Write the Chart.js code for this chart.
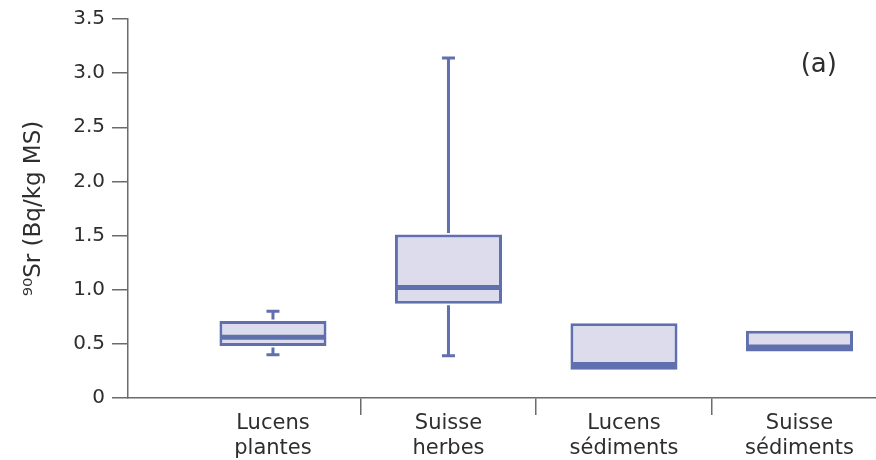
<!DOCTYPE html>
<html>
<head>
<meta charset="utf-8">
<script src="https://cdn.jsdelivr.net/npm/chart.js@4"></script>
<style>
  html, body { margin: 0; padding: 0; background: #fff; }
  #wrap { width: 876px; height: 460px; }
</style>
</head>
<body>
<div id="wrap"><canvas id="boxChart"></canvas></div>
<script>
// categories and box statistics
const categories = [
    ['Lucens', 'plantes'],
    ['Suisse', 'herbes'],
    ['Lucens', 'sédiments'],
    ['Suisse', 'sédiments']
];
const positions = [1, 2, 3, 4];
const whiskerLow = [0.40, 0.39, 0.26, 0.43];
const quartile1 = [0.48, 0.87, 0.26, 0.43];
const medians = [0.56, 1.02, 0.31, 0.47];
const quartile3 = [0.71, 1.51, 0.69, 0.62];
const whiskerHigh = [0.80, 3.14, 0.69, 0.62];
const yTicks = [0, 0.5, 1.0, 1.5, 2.0, 2.5, 3.0, 3.5];

const panelLabel = '(a)';
const panelLabelAt = { x: 4.11, y: 3.07 };

const boxColor = '#6070ae';
const boxFill = '#dcdcec';
const axisColor = '#6b6b6b';
const textColor = '#2e2e2e';
const fontFamily = '"DejaVu Sans", Verdana, sans-serif';

// whiskers, caps, medians and the panel letter, all placed through the scales
const boxExtras = {
    id: 'boxExtras',
    afterDatasetsDraw(chart) {
        const ctx = chart.ctx;
        const xs = chart.scales.x;
        const ys = chart.scales.y;
        const meta = chart.getDatasetMeta(0);
        ctx.save();
        ctx.strokeStyle = boxColor;
        ctx.lineCap = 'butt';
        for (let i = 0; i < positions.length; i++) {
            var cx = xs.getPixelForValue(positions[i]);
            var half = meta.data[i].width / 2;
            var capHalf = 6.5;
            // lower whisker
            if (whiskerLow[i] < quartile1[i]) {
                var y1 = ys.getPixelForValue(quartile1[i]);
                var y0 = ys.getPixelForValue(whiskerLow[i]);
                ctx.lineWidth = 3;
                ctx.beginPath();
                ctx.moveTo(cx, y1 + 1.5);
                ctx.lineTo(cx, y0);
                ctx.moveTo(cx - capHalf, y0);
                ctx.lineTo(cx + capHalf, y0);
                ctx.stroke();
            }
            // upper whisker
            if (whiskerHigh[i] > quartile3[i]) {
                var y3 = ys.getPixelForValue(quartile3[i]);
                var y4 = ys.getPixelForValue(whiskerHigh[i]);
                ctx.lineWidth = 3;
                ctx.beginPath();
                ctx.moveTo(cx, y3 - 1.5);
                ctx.lineTo(cx, y4);
                ctx.moveTo(cx - capHalf, y4);
                ctx.lineTo(cx + capHalf, y4);
                ctx.stroke();
            }
            // median
            var ym = ys.getPixelForValue(medians[i]);
            ctx.lineWidth = 5;
            ctx.beginPath();
            ctx.moveTo(cx - half + 1, ym);
            ctx.lineTo(cx + half - 1, ym);
            ctx.stroke();
        }
        ctx.fillStyle = textColor;
        ctx.font = '26px ' + fontFamily;
        ctx.textAlign = 'center';
        ctx.textBaseline = 'middle';
        ctx.fillText(panelLabel, xs.getPixelForValue(panelLabelAt.x), ys.getPixelForValue(panelLabelAt.y));
        ctx.restore();
    }
};

document.addEventListener('DOMContentLoaded', function() {
    var ctx = document.getElementById('boxChart').getContext('2d');

    var boxes = positions.map(function(p, i) {
        return { x: p, y: [quartile1[i], quartile3[i]] };
    });

    new Chart(ctx, {
        type: 'bar',
        data: {
            datasets: [{
                data: boxes,
                backgroundColor: boxFill,
                borderColor: boxColor,
                borderWidth: 3,
                borderSkipped: false,
                barPercentage: 0.61,
                categoryPercentage: 1.0
            }]
        },
        options: {
            responsive: true,
            maintainAspectRatio: false,
            animation: false,
            layout: { padding: { top: 18, right: 0, bottom: 0, left: 0 } },
            plugins: {
                legend: { display: false },
                tooltip: { enabled: false }
            },
            scales: {
                x: {
                    type: 'linear',
                    min: 0.174,
                    max: 4.436,
                    bounds: 'data',
                    offset: false,
                    afterBuildTicks: function(scale) {
                        scale.ticks = positions.map(function(v) { return { value: v }; });
                    },
                    afterFit: function(scale) { scale.height = 62; },
                    border: { color: axisColor, width: 1.5 },
                    grid: {
                        offset: true,
                        drawOnChartArea: false,
                        tickLength: 17,
                        lineWidth: 1.5,
                        tickColor: function(c) { return c.index === 0 ? 'rgba(0,0,0,0)' : axisColor; }
                    },
                    ticks: {
                        autoSkip: false,
                        maxRotation: 0,
                        padding: -4,
                        color: textColor,
                        font: { family: fontFamily, size: 21, lineHeight: 1.2 },
                        callback: function(value) {
                            return categories[positions.indexOf(value)];
                        }
                    }
                },
                y: {
                    min: 0,
                    max: 3.5,
                    afterBuildTicks: function(scale) {
                        scale.ticks = yTicks.map(function(v) { return { value: v }; });
                    },
                    afterFit: function(scale) { scale.width = 128; },
                    border: { color: axisColor, width: 1.5 },
                    grid: {
                        drawOnChartArea: false,
                        tickLength: 16,
                        lineWidth: 1.5,
                        tickColor: axisColor
                    },
                    ticks: {
                        padding: 7,
                        color: textColor,
                        font: { family: fontFamily, size: 20 },
                        callback: function(value) {
                            return value === 0 ? '0' : value.toFixed(1);
                        }
                    },
                    title: {
                        display: true,
                        text: '⁹⁰Sr (Bq/kg MS)',
                        color: textColor,
                        font: { family: fontFamily, size: 23 },
                        padding: { top: 20, bottom: 0 }
                    }
                }
            }
        },
        plugins: [boxExtras]
    });
});
</script>
</body>
</html>
